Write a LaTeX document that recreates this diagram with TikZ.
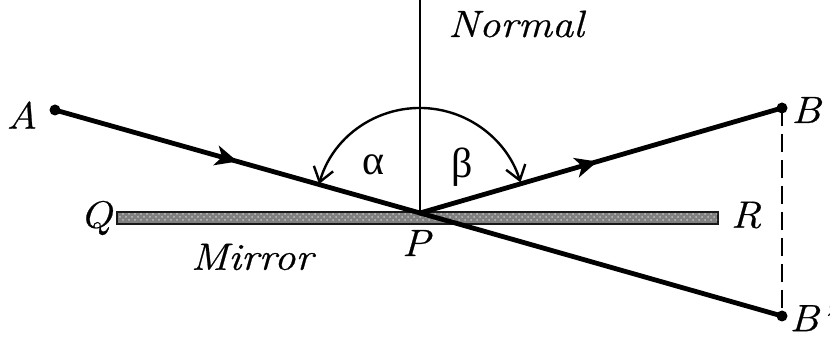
\documentclass[tikz,border=0pt]{standalone}
\usepackage{fontspec}
\setmainfont{Latin Modern Roman}[ItalicFeatures={FakeStretch=1.12,FakeBold=0.6}]
\newfontfamily\grk{Liberation Serif}
\usetikzlibrary{arrows.meta,decorations.markings,patterns}
\begin{document}
\begin{tikzpicture}[x=0.5pt,y=0.5pt,
  ray/.style={line width=2.4pt,line cap=round},
  midarrow/.style={decoration={markings,mark=at position #1 with {\arrow{Stealth[length=11pt,width=10pt,inset=3pt]}}},postaction={decorate}},
  dot/.style={circle,fill=black,inner sep=0pt,minimum size=5.5pt},
  lbl/.style={font=\fontsize{19}{21}\selectfont\itshape,inner sep=0pt},
  greek/.style={font=\fontsize{21}{23}\selectfont\grk,inner sep=0pt},
  mirrorbar/.style={fill=black!50,draw=black!90,line width=1pt},
  mirrortex/.style={pattern=crosshatch dots,pattern color=white!75!black}]
\useasboundingbox (0,0) rectangle (830,337);
% mirror
\path[mirrorbar] (117,113) rectangle (718,125);
\path[mirrortex] (118,115) rectangle (717,123);
% points
\coordinate (P) at (420,124);
\coordinate (Ntop) at (420,337);
\node[dot] (A) at (55,227) {};
\node[dot] (B) at (782,229) {};
\node[dot] (Bp) at (782,21) {};
% normal
\draw[line width=1pt] (Ntop) -- (P);
% rays
\draw[ray,midarrow=0.5] (A.center) -- (P);
\draw[ray,midarrow=0.49] (P) -- (B.center);
\draw[ray] (P) -- (Bp.center);
\draw[line width=1.2pt,dash pattern=on 9pt off 4pt] (B.center) -- (Bp.center);
% angle arc
\draw[line width=1.2pt,{Straight Barb[length=7pt,width=10pt]}-{Straight Barb[length=7pt,width=10pt]}]
  ([shift={(164:105)}]P) arc (164:17:105);
% labels
\node[lbl] (lA) at (22,222) {A};
\node[lbl] (lB) at (806,227) {B};
\node[lbl,anchor=west] (lBp) at (789,19) {B'};
\node[lbl] (lQ) at (96,119) {Q};
\node[lbl] (lR) at (746,122) {R};
\node[lbl] (lP) at (416,94) {P};
\node[lbl] (lM) at (252,80) {Mirror};
\node[lbl] (lN) at (516,313) {Normal};
\node[greek] (la) at (373,172) {α};
\node[greek] (lb) at (462,170) {β};
\end{tikzpicture}
\end{document}
